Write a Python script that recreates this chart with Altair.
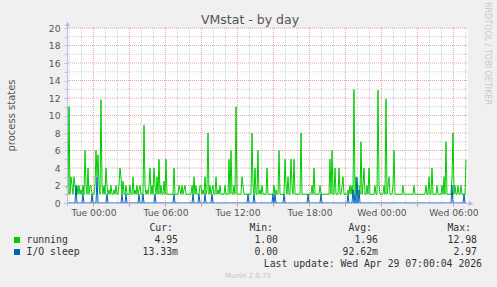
import altair as alt
import pandas as pd

# ---- data (one value per 5-minute sample) ----
running = [
    2, 1, 11, 1, 3, 2, 1, 3, 2, 1, 2, 1, 2, 1, 1.5, 1, 2, 1, 6, 2,
    1, 4, 1, 2, 2, 1, 1, 1, 2, 6, 3, 5.5, 2, 1, 11.8, 2, 1, 2, 1, 4,
    2, 1, 1.5, 1, 2, 1, 1, 1.5, 1, 2, 1, 1, 2, 4, 3, 1, 2.5, 1, 1, 2,
    1, 1, 1, 2, 1, 1, 3, 1, 1.5, 1, 2, 1, 1.5, 2, 1, 1, 1, 8.9, 2, 1,
    1.5, 1, 2, 4, 1, 2, 1, 4, 2, 1, 3, 1, 5, 1, 2, 1, 1, 2.5, 1, 5,
    1, 1, 1, 1, 1, 1, 1, 4, 1, 1, 1, 1, 2, 1.5, 1, 2, 1, 1.5, 2, 1,
    1, 1, 1, 1, 1, 2, 1, 3, 1, 2, 1, 1, 1, 2, 2, 1, 1.5, 1, 3, 1,
    1.5, 8, 1, 2, 1, 1.5, 2, 1, 1, 3, 1, 1.5, 1, 2, 1, 1, 1, 1, 2, 1,
    1, 1, 5, 1, 6, 1, 1, 2, 1, 11, 1, 1, 1, 1, 1, 3, 2, 1, 1, 1,
    1, 1, 1, 1, 1, 8, 2, 1, 4, 1, 1, 6, 1, 1.5, 1, 2, 1, 1, 1, 1,
    4, 1, 1, 1, 1, 1, 1, 2, 1, 1.5, 1, 1, 6, 1, 1, 1, 1, 1, 5, 2,
    1, 3, 1, 1, 5, 2, 1, 5, 1, 1, 1, 1, 1, 1, 8, 1, 1, 1, 1, 1,
    1, 1, 1, 1, 1, 2, 1, 4, 1, 1, 1, 1, 1, 2, 1, 1, 1, 1, 1, 1,
    1, 1, 1, 5, 1, 6, 1, 1, 4, 1, 1, 1, 4, 1, 1, 2, 3, 1, 1, 1,
    1, 1.5, 1, 2, 1, 2, 1, 12.98, 1, 3, 1, 2, 2, 1, 7, 1, 2, 4, 1, 1,
    2, 1, 4, 1, 1, 1, 1, 1, 2, 1, 1, 12.9, 2, 1, 1, 1, 1, 2, 1, 11.9,
    1, 2, 3, 1, 1, 1, 2, 6, 1, 1, 1, 1, 1, 1, 1, 1, 2, 1, 1, 1,
    1, 1, 1, 1, 1, 1, 1, 2, 1, 1, 1, 1, 1, 1, 1, 1, 1, 1, 1, 2,
    1, 1, 3, 1, 1, 4, 1, 1, 1, 1, 2, 1, 1, 1, 1, 2, 1, 3, 1, 7,
    1, 1, 1, 1, 1, 3, 8, 1, 2, 1, 1, 2, 1, 1, 2, 1, 1, 1, 1, 4.95,
]
io_sleep = [
    0, 0, 0, 0, 0, 0, 0, 0, 0, 2, 0, 0, 0, 0, 0, 0, 1, 0, 0, 0,
    0, 0, 0, 0, 0, 1, 0, 0, 0, 0, 2.97, 0, 0, 0, 0, 0, 0, 0, 0, 0,
    1, 0, 0, 0, 0, 0, 0, 0, 0, 0, 0, 0, 0, 0, 0, 1, 0, 0, 0, 1,
    0, 0, 0, 0, 0, 0, 0, 0, 0, 0, 0, 0, 1, 0, 0, 0, 1, 0, 0, 0,
    0, 0, 0, 0, 0, 0, 0, 0, 1, 0, 0, 0, 0, 0, 0, 0, 0, 0, 0, 0,
    0, 0, 0, 0, 0, 0, 0, 1, 0, 0, 0, 0, 0, 0, 0, 0, 0, 0, 0, 0,
    0, 0, 0, 0, 0, 0, 1, 0, 0, 0, 0, 0, 1, 0, 0, 0, 0, 0, 1, 0,
    0, 0, 0, 0, 0, 1, 0, 0, 0, 0, 0, 0, 0, 0, 0, 0, 0, 0, 0, 0,
    0, 0, 0, 0, 0, 0, 0, 0, 0, 0, 0, 0, 0, 0, 0, 0, 0, 0, 0, 0,
    0, 1, 0, 0, 0, 0, 0, 1, 0, 0, 0, 0, 0, 0, 0, 0, 0, 0, 0, 0,
    0, 0, 0, 0, 0, 0, 1, 0, 1, 0, 0, 0, 0, 0, 0, 0, 0, 1, 0, 0,
    0, 0, 0, 0, 0, 0, 0, 0, 0, 0, 0, 0, 0, 0, 0, 0, 0, 0, 0, 0,
    0, 1, 0, 0, 0, 0, 0, 0, 0, 0, 0, 0, 0, 0, 1, 0, 0, 0, 0, 0,
    0, 0, 0, 0, 0, 0, 0, 0, 0, 0, 0, 0, 0, 0, 0, 0, 0, 0, 0, 0,
    0, 1, 0, 0, 0, 0, 1.5, 0, 1, 0, 2.9, 0, 1.5, 0, 0, 0, 0, 0, 0, 0,
    0, 0, 0, 0, 0, 0, 0, 0, 0, 0, 0, 0, 0, 0, 0, 0, 0, 0, 0, 0,
    0, 0, 0, 0, 0, 0, 0, 0, 0, 0, 0, 0, 0, 0, 0, 0, 0, 0, 0, 0,
    0, 0, 0, 0, 0, 0, 0, 0, 0, 0, 0, 0, 0, 0, 0, 0, 0, 0, 0, 0,
    0, 0, 0, 0, 0, 0, 0, 0, 0, 0, 0, 0, 0, 0, 0, 0, 0, 0, 0, 0,
    0, 0, 0, 0, 0, 2, 0, 0, 0, 0, 0, 0, 0, 0, 0, 0, 0, 1, 0, 0.0133,
]

START_HOUR = 21.7917          # hours after Mon 00:00 of the first sample
STEP_HOUR = 5 / 60            # 5-minute samples
minor_hours = list(range(22, 56))
major_hours = [24, 27, 30, 33, 36, 39, 42, 45, 48, 51, 54]
label_hours = [24, 30, 36, 42, 48, 54]
minor_levels = [1, 3, 5, 7, 9, 11, 13, 15, 17, 19]
major_levels = [2, 4, 6, 8, 10, 12, 14, 16, 18, 20]
y_ticks = list(range(0, 21))

series_names = ["running", "I/O sleep"]
series_colors = ["#00cc00", "#0066b3"]
stat_headers = ["Cur:", "Min:", "Avg:", "Max:"]
stat_cur = ["4.95", "13.33m"]
stat_min = ["1.00", "0.00"]
stat_avg = ["1.96", "92.62m"]
stat_max = ["12.98", "2.97"]

title_text = "VMstat - by day"
y_title = "process states"
last_update = "Last update: Wed Apr 29 07:00:04 2026"
side_text = "RRDTOOL / TOBI OETIKER"
footer = "Munin 2.0.73"

# ---- build tables ----
N = len(running)
hours = [START_HOUR + i * STEP_HOUR for i in range(N)]
df_run = pd.DataFrame({"hour": hours, "value": running})
df_io = pd.DataFrame({"hour": hours, "value": io_sleep})

W, H = 400, 175
xs = alt.Scale(domain=[START_HOUR, START_HOUR + N * STEP_HOUR], nice=False, zero=False)
ys = alt.Scale(domain=[0, 20], nice=False, zero=False)

MINOR = "#d2d2d2"
MAJOR = "#e3a4a4"
AXIS = "#b6bde9"
LABEL = "#555555"

x_axis = alt.Axis(
    values=major_hours, title=None, grid=False, domain=False,
    tickColor="#e08a8a", tickSize=3, labelPadding=2,
    labelExpr="datum.value % 6 != 0 ? '' : ((floor(datum.value / 24) == 1 ? 'Tue ' : 'Wed ') + ((datum.value % 24) < 10 ? '0' : '') + (datum.value % 24) + ':00')",
    labelFont="DejaVu Sans", labelFontSize=9.2, labelColor=LABEL,
    labelFlush=False, labelOverlap=False,
)
y_axis = alt.Axis(
    values=y_ticks, title=None, grid=False, domain=False,
    tickColor="#c4c4c4", tickSize=3, labelPadding=4,
    labelExpr="datum.value % 2 == 0 ? datum.label : ''",
    labelFont="DejaVu Sans", labelFontSize=9.2, labelColor=LABEL,
    labelFlush=False, labelOverlap=False,
)

minor_v = alt.Chart(pd.DataFrame({"h": minor_hours})).mark_rule(
    color=MINOR, strokeDash=[1, 1], strokeWidth=1
).encode(x=alt.X("h:Q", scale=xs, axis=x_axis))
major_v = alt.Chart(pd.DataFrame({"h": major_hours})).mark_rule(
    color=MAJOR, strokeDash=[1, 1], strokeWidth=1
).encode(x=alt.X("h:Q", scale=xs, axis=x_axis))
minor_h = alt.Chart(pd.DataFrame({"v": minor_levels})).mark_rule(
    color=MINOR, strokeDash=[1, 1], strokeWidth=1
).encode(y=alt.Y("v:Q", scale=ys, axis=y_axis))
major_h = alt.Chart(pd.DataFrame({"v": major_levels})).mark_rule(
    color=MAJOR, strokeDash=[1, 1], strokeWidth=1
).encode(y=alt.Y("v:Q", scale=ys, axis=y_axis))

line_run = alt.Chart(df_run).mark_line(color=series_colors[0], strokeWidth=1).encode(
    x=alt.X("hour:Q", scale=xs, axis=x_axis),
    y=alt.Y("value:Q", scale=ys, axis=y_axis),
)
line_io = alt.Chart(df_io).mark_line(color=series_colors[1], strokeWidth=1).encode(
    x=alt.X("hour:Q", scale=xs, axis=x_axis),
    y=alt.Y("value:Q", scale=ys, axis=y_axis),
)

# axis lines with arrows
one = pd.DataFrame({"a": [0]})
y_line = alt.Chart(one).mark_rule(color=AXIS, strokeWidth=1).encode(
    x=alt.value(0.5), y=alt.value(-4), y2=alt.value(H + 3)
)
x_line = alt.Chart(one).mark_rule(color=AXIS, strokeWidth=1).encode(
    x=alt.value(-3), x2=alt.value(W + 4), y=alt.value(H + 0.5)
)
y_arrow = alt.Chart(one).mark_point(shape="triangle-up", filled=True, color=AXIS, size=28, opacity=1).encode(
    x=alt.value(0.5), y=alt.value(-4)
)
x_arrow = alt.Chart(one).mark_point(shape="triangle-right", filled=True, color=AXIS, size=28, opacity=1).encode(
    x=alt.value(W + 4), y=alt.value(H + 0.5)
)

# texts
def text_layer(txt, x, y, size, color, font="DejaVu Sans", align="left", angle=0, baseline="middle"):
    props = dict(font=font, fontSize=size, color=color, align=align, baseline=baseline)
    if angle:
        props["angle"] = angle
    return alt.Chart(pd.DataFrame({"t": [txt]})).mark_text(**props).encode(
        text="t:N", x=alt.value(x), y=alt.value(y)
    )

OX, OY = 67, 28  # plot origin in page pixels
texts = [
    text_layer(title_text, 250 - OX, 19.5 - OY, 12.5, "#555555", align="center"),
    text_layer(y_title, 12 - OX, 115.5 - OY, 10, "#555555", align="center", angle=270),
    text_layer(side_text, 487 - OX, 53.5 - OY, 8, "#c8c8c8", align="center", angle=90),
    text_layer(footer, 248 - OX, 276 - OY, 7, "#c4c4c4", align="center"),
    text_layer(last_update, 482 - OX, 263.5 - OY, 9.8, "#333333", font="DejaVu Sans Mono", align="right"),
]
MONO = "DejaVu Sans Mono"
header_right = [173, 273, 372, 471]
value_right = [178, 278, 378, 477]
for hdr, xr in zip(stat_headers, header_right):
    texts.append(text_layer(hdr, xr - OX, 228 - OY, 9.8, "#333333", font=MONO, align="right"))
row_y = [240, 252]
columns = [stat_cur, stat_min, stat_avg, stat_max]
for r, (name, col) in enumerate(zip(series_names, series_colors)):
    yy = row_y[r] - OY
    texts.append(
        alt.Chart(pd.DataFrame({"s": [name]})).mark_square(size=36, color=col, opacity=1).encode(
            x=alt.value(17 - OX), y=alt.value(yy)
        )
    )
    texts.append(text_layer(name, 26.5 - OX, yy, 9.8, "#333333", font=MONO))
    for vals, xr in zip(columns, value_right):
        texts.append(text_layer(vals[r], xr - OX, yy, 9.8, "#333333", font=MONO, align="right"))

chart = alt.layer(
    minor_v, minor_h, major_v, major_h, line_run, line_io,
    y_line, x_line, y_arrow, x_arrow, *texts
).properties(
    width=W, height=H,
    padding={"left": OX, "top": OY, "right": 497 - OX - W, "bottom": 287 - OY - H},
    autosize=alt.AutoSizeParams(type="none"),
).configure(background="#f0f0f0").configure_view(fill="white", stroke="transparent")

chart.save("out.html", embed_options={"renderer": "svg", "actions": False})
